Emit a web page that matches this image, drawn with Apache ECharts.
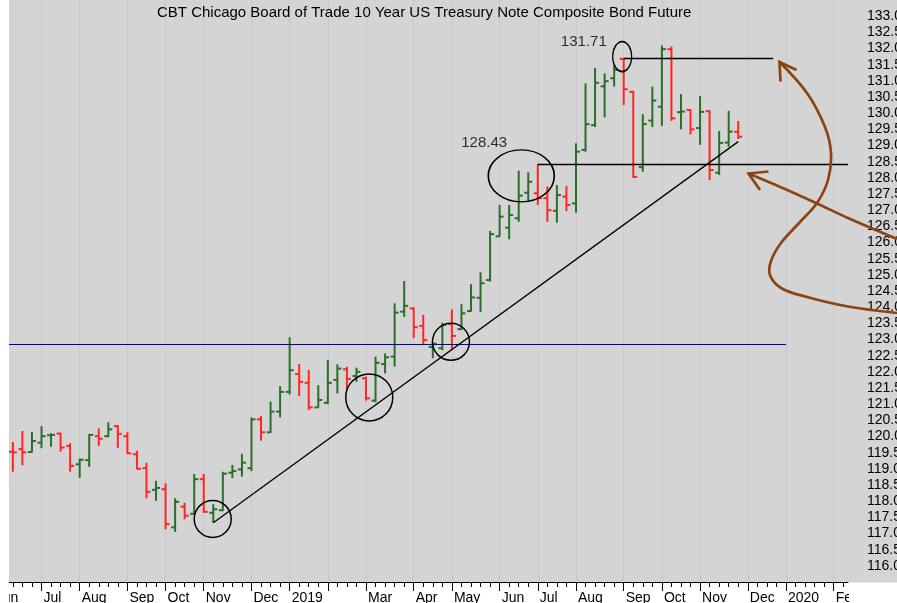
<!DOCTYPE html>
<html>
<head>
<meta charset="utf-8">
<title>CBT 10 Year US Treasury Note</title>
<script src="https://cdn.jsdelivr.net/npm/echarts@6/dist/echarts.min.js"></script>
<style>
  html, body { margin: 0; padding: 0; background: #fff; }
  #chart { width: 897px; height: 603px; }
</style>
</head>
<body>
<div id="chart"></div>
<script>
// weekly bars, dated by the Friday of each week
var weeks = [
    '2018-06-01', '2018-06-08', '2018-06-15', '2018-06-22', '2018-06-29',
    '2018-07-06', '2018-07-13', '2018-07-20', '2018-07-27',
    '2018-08-03', '2018-08-10', '2018-08-17', '2018-08-24', '2018-08-31',
    '2018-09-07', '2018-09-14', '2018-09-21', '2018-09-28',
    '2018-10-05', '2018-10-12', '2018-10-19', '2018-10-26',
    '2018-11-02', '2018-11-09', '2018-11-16', '2018-11-23', '2018-11-30',
    '2018-12-07', '2018-12-14', '2018-12-21', '2018-12-28',
    '2019-01-04', '2019-01-11', '2019-01-18', '2019-01-25',
    '2019-02-01', '2019-02-08', '2019-02-15', '2019-02-22',
    '2019-03-01', '2019-03-08', '2019-03-15', '2019-03-22', '2019-03-29',
    '2019-04-05', '2019-04-12', '2019-04-19', '2019-04-26',
    '2019-05-03', '2019-05-10', '2019-05-17', '2019-05-24', '2019-05-31',
    '2019-06-07', '2019-06-14', '2019-06-21', '2019-06-28',
    '2019-07-05', '2019-07-12', '2019-07-19', '2019-07-26',
    '2019-08-02', '2019-08-09', '2019-08-16', '2019-08-23', '2019-08-30',
    '2019-09-06', '2019-09-13', '2019-09-20', '2019-09-27',
    '2019-10-04', '2019-10-11', '2019-10-18', '2019-10-25',
    '2019-11-01', '2019-11-08', '2019-11-15', '2019-11-22', '2019-11-29',
    '2019-12-06', '2019-12-13', '2019-12-20', '2019-12-27',
    '2020-01-03', '2020-01-10', '2020-01-17', '2020-01-24', '2020-01-31',
    '2020-02-07', '2020-02-14'
];

// first week of each month -> label under the axis (Feb 2019 has no label)
var monthTicks = {
    '2018-06-01': 'Jun', '2018-07-06': 'Jul', '2018-08-03': 'Aug', '2018-09-07': 'Sep',
    '2018-10-05': 'Oct', '2018-11-02': 'Nov', '2018-12-07': 'Dec', '2019-01-04': '2019',
    '2019-02-01': '', '2019-03-01': 'Mar', '2019-04-05': 'Apr', '2019-05-03': 'May',
    '2019-06-07': 'Jun', '2019-07-05': 'Jul', '2019-08-02': 'Aug', '2019-09-06': 'Sep',
    '2019-10-04': 'Oct', '2019-11-01': 'Nov', '2019-12-06': 'Dec', '2020-01-03': '2020',
    '2020-02-07': 'Feb'
};

// bars start at this week
var firstBar = '2018-06-15';

var opens = [
    119.53, 119.61, 119.52, 119.81, 120.04, 120.09, 119.71, 119.14, 119.27, 120.01,
    120.01, 120.32, 120.01, 119.45, 119.02, 118.35, 118.37, 117.19, 117.83, 117.61,
    118.68, 117.64, 117.72, 118.88, 118.98, 119.02, 120.53, 120.13, 120.77, 121.38,
    121.93, 121.66, 120.90, 121.04, 121.75, 122.08, 121.87, 121.80, 121.11, 122.24,
    122.47, 123.86, 123.96, 123.42, 122.77, 122.73, 123.48, 123.32, 123.88, 124.29,
    124.84, 126.19, 126.46, 126.75, 127.54, 127.52, 127.37, 126.98, 127.42, 127.21,
    128.86, 129.63, 130.83, 131.08, 131.68, 130.66, 128.33, 129.77, 130.20, 131.98,
    130.03, 130.10, 129.54, 130.06, 128.16, 129.09, 129.42
];
var highs = [
    119.83, 120.17, 120.14, 120.32, 120.10, 120.12, 119.79, 119.32, 120.08, 120.25,
    120.44, 120.35, 120.13, 119.56, 119.19, 118.63, 118.55, 118.09, 117.95, 118.84,
    118.84, 117.91, 118.91, 119.12, 119.46, 120.59, 120.63, 121.08, 121.56, 123.07,
    122.24, 122.06, 121.59, 122.37, 122.23, 122.16, 122.13, 121.85, 122.47, 122.57,
    124.12, 124.81, 123.99, 123.76, 122.90, 123.52, 123.93, 124.09, 124.71, 125.08,
    126.36, 127.16, 127.16, 128.22, 128.17, 128.43, 127.73, 127.78, 127.75, 129.07,
    130.92, 131.40, 131.23, 131.49, 131.71, 130.69, 129.97, 130.82, 132.09, 132.06,
    130.59, 130.12, 130.53, 130.09, 129.45, 130.07, 129.76
];
var lows = [
    118.91, 119.11, 119.50, 119.64, 119.68, 119.53, 118.91, 118.72, 119.06, 119.71,
    119.98, 119.65, 119.46, 118.98, 118.09, 118.01, 117.13, 117.05, 117.44, 117.60,
    117.64, 117.33, 117.69, 118.71, 118.76, 118.93, 119.87, 120.11, 120.59, 121.30,
    121.25, 120.82, 120.89, 121.00, 121.33, 121.44, 121.69, 121.11, 121.06, 121.95,
    122.16, 123.70, 123.05, 122.83, 122.42, 122.67, 122.70, 123.29, 123.86, 123.85,
    124.79, 126.18, 126.10, 126.64, 127.26, 127.16, 126.64, 126.61, 126.97, 126.92,
    128.81, 129.57, 129.87, 130.82, 130.25, 128.00, 128.19, 129.57, 129.61, 129.76,
    129.50, 129.34, 129.02, 127.93, 128.09, 128.96, 129.20
];
var closes = [
    119.51, 119.51, 119.86, 120.01, 120.05, 119.66, 119.09, 119.28, 120.05, 119.93,
    120.22, 120.08, 119.48, 119.00, 118.29, 118.41, 117.29, 117.98, 117.55, 118.68,
    117.67, 117.75, 118.85, 118.93, 119.19, 120.53, 120.13, 120.77, 121.38, 122.05,
    121.69, 120.90, 121.13, 121.66, 122.10, 121.78, 122.00, 121.18, 122.28, 122.45,
    123.83, 124.04, 123.38, 122.98, 122.87, 123.45, 123.11, 123.81, 124.30, 124.74,
    126.26, 126.80, 126.85, 127.45, 127.88, 127.37, 127.00, 127.47, 127.16, 128.81,
    129.66, 130.94, 130.99, 131.34, 130.74, 128.03, 129.66, 130.39, 131.98, 129.84,
    130.05, 129.50, 130.04, 128.24, 129.08, 129.43, 129.27
];

// hand drawn notes on the chart, x given as week index
var blueLevel = 122.86;
var trendFrom = [23, 117.33];
var trendTo = [78, 129.12];
var highLevel = 131.71;
var midLevel = 128.43;
var noteRings = [
    [22.94, 117.45, 37, 37],
    [39.34, 121.21, 47, 47],
    [47.90, 122.93, 37, 37],
    [55.27, 128.06, 66, 52],
    [65.84, 131.75, 19, 30]
];
var noteTexts = [
    ['128.43', 51.38, 129.07],
    ['131.71', 61.82, 132.21]
];

var upColor = '#2a6e2a';
var downColor = '#ff2525';
var font = "'Liberation Sans', Arial, sans-serif";

var start = weeks.indexOf(firstBar);
var bars = [];
for (var i = 0; i < opens.length; i++) {
    bars.push([weeks[start + i], opens[i], highs[i], lows[i], closes[i]]);
}

function isMonthStart(index, value) {
    return monthTicks[value] !== undefined;
}

function renderBar(params, api) {
    var idx = api.value(0);
    var x = api.coord([idx, 0])[0];
    var o = api.coord([idx, api.value(1)])[1];
    var h = api.coord([idx, api.value(2)])[1];
    var l = api.coord([idx, api.value(3)])[1];
    var c = api.coord([idx, api.value(4)])[1];
    var col = api.value(4) < api.value(1) ? downColor : upColor;
    var st = { stroke: col, lineWidth: 2 };
    return {
        type: 'group',
        children: [
            { type: 'line', shape: { x1: x, y1: h, x2: x, y2: l }, style: st },
            { type: 'line', shape: { x1: x - 4, y1: o, x2: x, y2: o }, style: st },
            { type: 'line', shape: { x1: x, y1: c, x2: x + 4, y2: c }, style: st }
        ]
    };
}

var myChart = echarts.init(document.getElementById('chart'));

var option = {
    animation: false,
    backgroundColor: '#d4d4d4',
    title: {
        text: 'CBT Chicago Board of Trade 10 Year US Treasury Note Composite Bond Future',
        left: 152,
        top: 0,
        textStyle: { fontSize: 15, fontWeight: 'normal', color: '#000', fontFamily: font }
    },
    grid: {
        left: -11,
        right: 49,
        top: 0,
        bottom: 21,
        outerBoundsMode: 'none'
    },
    xAxis: [
        {
            type: 'category',
            data: weeks,
            boundaryGap: true,
            axisLine: { show: true, lineStyle: { color: '#000', width: 1 } },
            axisTick: { show: true, alignWithLabel: true, length: 9, interval: isMonthStart, lineStyle: { color: '#000' } },
            axisLabel: {
                show: true,
                interval: isMonthStart,
                formatter: function (v) { return monthTicks[v] || ''; },
                align: 'left',
                padding: [0, 0, 0, 2],
                margin: 9,
                color: '#000',
                fontSize: 14,
                fontFamily: font
            },
            splitLine: {
                show: true,
                interval: isMonthStart,
                alignWithLabel: true,
                lineStyle: { type: 'dotted', color: '#bcbcbc', width: 1 }
            }
        },
        {
            // short weekly ticks
            type: 'category',
            data: weeks,
            boundaryGap: true,
            position: 'bottom',
            axisLine: { show: false },
            axisTick: { show: true, alignWithLabel: true, length: 5, interval: 0, lineStyle: { color: '#000' } },
            axisLabel: { show: false },
            splitLine: { show: false }
        },
        {
            // week index, used by the notes
            type: 'value',
            min: -0.5,
            max: 89.5,
            show: false
        }
    ],
    yAxis: {
        type: 'value',
        position: 'right',
        min: 115.5,
        max: 133.5,
        interval: 0.5,
        axisLine: { show: true, lineStyle: { color: '#000' } },
        axisTick: { show: true, length: 10, lineStyle: { color: '#000' } },
        minorTick: { show: true, splitNumber: 5, length: 5, lineStyle: { color: '#000' } },
        axisLabel: {
            margin: 19,
            color: '#000',
            fontSize: 14,
            fontFamily: font,
            showMinLabel: false,
            showMaxLabel: false,
            formatter: function (v) { return v.toFixed(1); }
        },
        splitLine: { show: false }
    },
    series: [
        {
            name: 'TY',
            type: 'custom',
            xAxisIndex: 0,
            yAxisIndex: 0,
            renderItem: renderBar,
            encode: { x: 0, y: [1, 2, 3, 4] },
            data: bars,
            z: 3
        },
        {
            name: 'notes',
            type: 'scatter',
            xAxisIndex: 2,
            yAxisIndex: 0,
            silent: true,
            symbol: 'circle',
            data: noteRings.map(function (r) {
                return { value: [r[0], r[1]], symbolSize: [r[2], r[3]] };
            }),
            itemStyle: { color: 'rgba(0,0,0,0)', borderColor: '#000', borderWidth: 1.5, opacity: 1 },
            z: 5,
            markLine: {
                silent: true,
                symbol: ['none', 'none'],
                label: { show: false },
                lineStyle: { type: 'solid', color: '#000', width: 1.3 },
                data: [
                    [{ coord: [-0.5, blueLevel], lineStyle: { color: '#0000b0', width: 1.2 } }, { coord: [83, blueLevel] }],
                    [{ coord: trendFrom }, { coord: trendTo }],
                    [{ coord: [57, midLevel] }, { coord: [89.5, midLevel] }],
                    [{ coord: [66, highLevel] }, { coord: [81.66, highLevel] }]
                ]
            }
        },
        {
            name: 'note text',
            type: 'scatter',
            xAxisIndex: 2,
            yAxisIndex: 0,
            silent: true,
            symbolSize: 0.1,
            itemStyle: { color: 'rgba(0,0,0,0)' },
            label: {
                show: true,
                position: 'inside',
                formatter: '{b}',
                color: '#000',
                fontSize: 15,
                fontFamily: font
            },
            data: noteTexts.map(function (t) {
                return { name: t[0], value: [t[1], t[2]] };
            }),
            z: 5
        }
    ],
    graphic: [
        { type: 'rect', shape: { x: 0, y: 582.5, width: 897, height: 21 }, style: { fill: '#fff' }, z: -1, silent: true },
        { type: 'rect', shape: { x: 0, y: 0, width: 9, height: 603 }, style: { fill: '#fff' }, z: 100, silent: true },
        { type: 'rect', shape: { x: 849, y: 583, width: 48, height: 20 }, style: { fill: '#fff' }, z: 100, silent: true },
        {
            type: 'polyline', silent: true, z: 60,
            shape: {
                points: [[897, 313], [848, 306.5], [807, 297], [781, 288], [770, 275], [771, 261], [781, 243],
                    [800, 222], [817, 203], [828, 180], [831, 153], [825, 127], [807, 93], [779.5, 62]],
                smooth: 0.35
            },
            style: { stroke: '#8b4513', lineWidth: 2.7, fill: null }
        },
        {
            type: 'polyline', silent: true, z: 60,
            shape: { points: [[796.5, 70], [779.5, 62], [780.5, 81.5]] },
            style: { stroke: '#8b4513', lineWidth: 2.7, fill: null }
        },
        {
            type: 'polyline', silent: true, z: 60,
            shape: { points: [[897, 239], [848, 218], [817, 203.5], [785, 189], [748.5, 173.5]], smooth: 0.3 },
            style: { stroke: '#8b4513', lineWidth: 2.7, fill: null }
        },
        {
            type: 'polyline', silent: true, z: 60,
            shape: { points: [[768.5, 171.5], [748.5, 173.5], [760, 190]] },
            style: { stroke: '#8b4513', lineWidth: 2.7, fill: null }
        }
    ]
};

myChart.setOption(option);
</script>
</body>
</html>
